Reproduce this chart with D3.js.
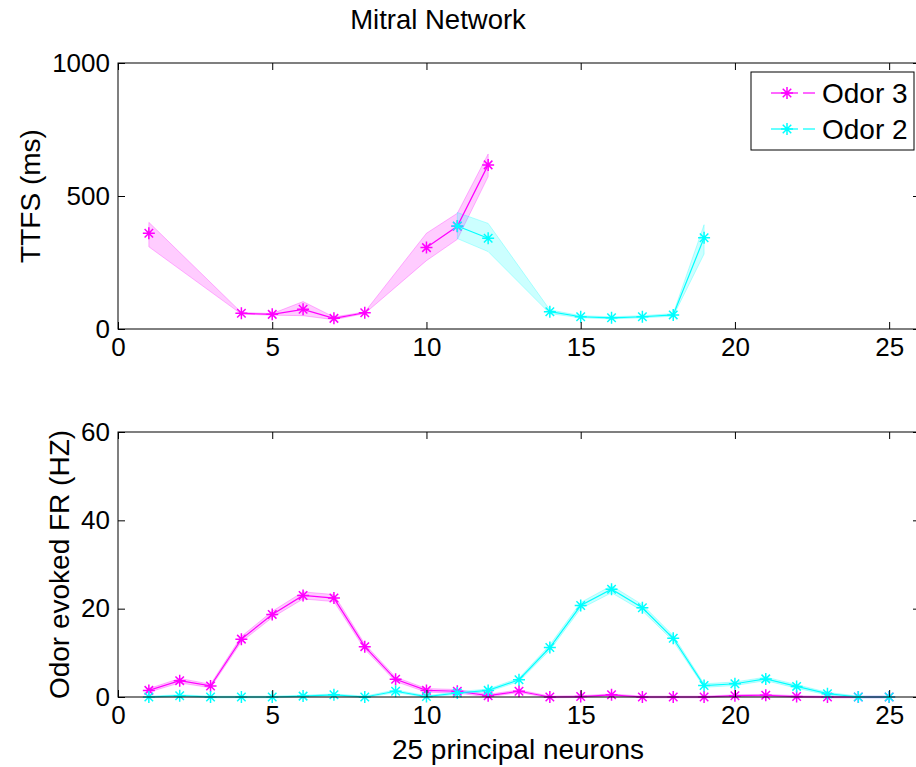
<!DOCTYPE html>
<html>
<head>
<meta charset="utf-8">
<script src="https://cdn.jsdelivr.net/npm/d3@7"></script>
<style>
  html, body { margin: 0; padding: 0; background: #fff; }
  svg { display: block; }
  text { font-family: "Liberation Sans", Arial, Helvetica, sans-serif; fill: #000; }
</style>
</head>
<body>
<svg id="chart" width="916" height="767"></svg>
<script>
// Principal neuron index (1..25)
const neurons = [1,2,3,4,5,6,7,8,9,10,11,12,13,14,15,16,17,18,19,20,21,22,23,24,25];

// Time to first spike (ms): mean and shaded band limits; null = no spike
const ttfsOdor3   = [360,null,null,59,55,74,40,61,null,306,386,617,null,null,null,null,null,null,null,null,null,null,null,null,null];
const ttfsOdor3Lo = [309,null,null,56,52,50,35,58,null,257,337,573,null,null,null,null,null,null,null,null,null,null,null,null,null];
const ttfsOdor3Hi = [401,null,null,62,58,103,45,64,null,360,435,658,null,null,null,null,null,null,null,null,null,null,null,null,null];

const ttfsOdor2   = [null,null,null,null,null,null,null,null,null,null,387,341,null,65,46,42,46,53,343,null,null,null,null,null,null];
const ttfsOdor2Lo = [null,null,null,null,null,null,null,null,null,null,340,291,null,58,42,38,42,48,282,null,null,null,null,null,null];
const ttfsOdor2Hi = [null,null,null,null,null,null,null,null,null,null,438,397,null,72,50,46,50,58,392,null,null,null,null,null,null];

// Odor evoked firing rate (Hz): mean and error half-width
const frOdor3    = [1.5,3.7,2.5,13.1,18.7,23.0,22.4,11.4,4.0,1.5,1.3,0.3,1.3,0,0.1,0.5,0,0,0,0.3,0.4,0.1,0,0,0];
const frOdor3Err = [0.4,0.5,0.4,0.6,0.7,0.8,0.8,0.6,0.5,0.4,0.4,0.3,0.3,0.2,0.2,0.2,0.2,0.2,0.2,0.2,0.2,0.2,0.2,0.2,0.2];
const frOdor2    = [0,0.3,0,0,0,0.2,0.5,0,1.3,0.1,0.9,1.5,3.9,11.2,20.7,24.4,20.2,13.3,2.6,3.0,4.1,2.4,0.75,0,0];
const frOdor2Err = [0.2,0.2,0.2,0.2,0.2,0.2,0.2,0.2,0.3,0.2,0.3,0.3,0.4,0.6,0.7,0.8,0.7,0.6,0.4,0.4,0.4,0.4,0.3,0.2,0.2];

const xTicks = [0,5,10,15,20,25];
const ttfsTicks = [0,500,1000];
const frTicks = [0,20,40,60];

const MAGENTA = "#ff00ff", CYAN = "#00ffff";

const svg = d3.select("#chart");
svg.append("rect").attr("width", 916).attr("height", 767).attr("fill", "#fff");

const x = d3.scaleLinear().domain([0, 26]).range([118, 920]);

// MATLAB-style asterisk marker: plus and cross overlaid
const asterisk = {
  draw(ctx, size) {
    const r = Math.sqrt(size);
    const d = r * Math.SQRT1_2;
    ctx.moveTo(-r, 0); ctx.lineTo(r, 0);
    ctx.moveTo(0, -r); ctx.lineTo(0, r);
    ctx.moveTo(-d, -d); ctx.lineTo(d, d);
    ctx.moveTo(-d, d); ctx.lineTo(d, -d);
  }
};
const marker = d3.symbol().type(asterisk).size(36);

function drawPanel(cfg) {
  const y = d3.scaleLinear().domain(cfg.yDomain).range([cfg.bottom, cfg.top]);
  const g = svg.append("g");
  const clipId = "clip" + cfg.id;
  svg.append("clipPath").attr("id", clipId)
    .append("rect").attr("x", x(0)).attr("y", cfg.top - 10)
    .attr("width", x(26) - x(0)).attr("height", cfg.bottom - cfg.top + 20);
  const plot = g.append("g").attr("clip-path", `url(#${clipId})`);

  // shaded bands
  cfg.series.forEach(s => {
    const pts = neurons.map((n, i) => ({ n, lo: s.lo[i], hi: s.hi[i] }))
      .filter(p => p.lo != null && p.hi != null);
    const area = d3.area().x(p => x(p.n)).y0(p => y(p.lo)).y1(p => y(p.hi));
    plot.append("path").attr("d", area(pts))
      .attr("fill", s.color).attr("fill-opacity", 0.2)
      .attr("stroke", s.color).attr("stroke-opacity", 0.35).attr("stroke-width", 0.8);
  });

  // mean lines and markers
  cfg.series.forEach(s => {
    const pts = neurons.map((n, i) => ({ n, v: s.mean[i] }));
    const line = d3.line().defined(p => p.v != null).x(p => x(p.n)).y(p => y(p.v));
    plot.append("path").attr("d", line(pts))
      .attr("fill", "none").attr("stroke", s.color).attr("stroke-width", 1.2);
    plot.selectAll(null).data(pts.filter(p => p.v != null)).enter()
      .append("path").attr("d", marker)
      .attr("transform", p => `translate(${x(p.n)},${y(p.v)})`)
      .attr("fill", "none").attr("stroke", s.color).attr("stroke-width", 1.5);
  });

  // axes box with inward ticks on all sides
  const axisStyle = sel => {
    sel.select(".domain").remove();
    sel.selectAll(".tick line").attr("stroke", "#000").attr("stroke-width", 1);
    sel.selectAll(".tick text").attr("font-size", 26).attr("fill", "#000")
      .style("font-family", '"Liberation Sans", Arial, sans-serif');
  };
  g.append("g").attr("transform", `translate(0,${cfg.bottom})`)
    .call(d3.axisBottom(x).tickValues(xTicks).tickSize(-7).tickPadding(9).tickFormat(d3.format("d")))
    .call(axisStyle);
  g.append("g").attr("transform", `translate(0,${cfg.top})`)
    .call(d3.axisTop(x).tickValues(xTicks).tickSize(-7).tickFormat(""))
    .call(axisStyle);
  g.append("g").attr("transform", `translate(${x(0)},0)`)
    .call(d3.axisLeft(y).tickValues(cfg.yTicks).tickSize(-7).tickPadding(8).tickFormat(d3.format("d")))
    .call(axisStyle);
  g.append("g").attr("transform", `translate(${x(26)},0)`)
    .call(d3.axisRight(y).tickValues(cfg.yTicks).tickSize(-7).tickFormat(""))
    .call(axisStyle);
  g.append("rect").attr("x", x(0)).attr("y", cfg.top)
    .attr("width", x(26) - x(0)).attr("height", cfg.bottom - cfg.top)
    .attr("fill", "none").attr("stroke", "#000").attr("stroke-width", 1);

  // y label
  g.append("text")
    .attr("transform", `translate(${cfg.labelX},${(cfg.top + cfg.bottom) / 2}) rotate(-90)`)
    .attr("text-anchor", "middle").attr("font-size", 28)
    .text(cfg.yLabel);
  return y;
}

drawPanel({
  id: "ttfs", top: 63, bottom: 329, yDomain: [0, 1000], yTicks: ttfsTicks,
  yLabel: "TTFS (ms)", labelX: 40,
  series: [
    { color: MAGENTA, mean: ttfsOdor3, lo: ttfsOdor3Lo, hi: ttfsOdor3Hi },
    { color: CYAN, mean: ttfsOdor2, lo: ttfsOdor2Lo, hi: ttfsOdor2Hi }
  ]
});

drawPanel({
  id: "fr", top: 432, bottom: 697, yDomain: [0, 60], yTicks: frTicks,
  yLabel: "Odor evoked FR (HZ)", labelX: 69,
  series: [
    { color: MAGENTA, mean: frOdor3, lo: frOdor3.map((v, i) => v - frOdor3Err[i]), hi: frOdor3.map((v, i) => v + frOdor3Err[i]) },
    { color: CYAN, mean: frOdor2, lo: frOdor2.map((v, i) => v - frOdor2Err[i]), hi: frOdor2.map((v, i) => v + frOdor2Err[i]) }
  ]
});

// title and x label
svg.append("text").attr("x", 438).attr("y", 29).attr("text-anchor", "middle")
  .attr("font-size", 27.5).text("Mitral Network");
svg.append("text").attr("x", 518).attr("y", 759).attr("text-anchor", "middle")
  .attr("font-size", 28).text("25 principal neurons");

// legend
const legendItems = [
  { label: "Odor 3", color: MAGENTA },
  { label: "Odor 2", color: CYAN }
];
const lg = svg.append("g");
lg.append("rect").attr("x", 751).attr("y", 72).attr("width", 163).attr("height", 78)
  .attr("fill", "#fff").attr("stroke", "#000").attr("stroke-width", 1);
legendItems.forEach((it, i) => {
  const cy = 93 + i * 36;
  lg.append("line").attr("x1", 771).attr("x2", 798).attr("y1", cy).attr("y2", cy)
    .attr("stroke", it.color).attr("stroke-width", 1.2);
  lg.append("path").attr("d", marker).attr("transform", `translate(787,${cy})`)
    .attr("fill", "none").attr("stroke", it.color).attr("stroke-width", 1.5);
  lg.append("line").attr("x1", 803).attr("x2", 815).attr("y1", cy).attr("y2", cy)
    .attr("stroke", it.color).attr("stroke-width", 1.2);
  lg.append("text").attr("x", 822).attr("y", cy + 10).attr("font-size", 28).text(it.label);
});
</script>
</body>
</html>
